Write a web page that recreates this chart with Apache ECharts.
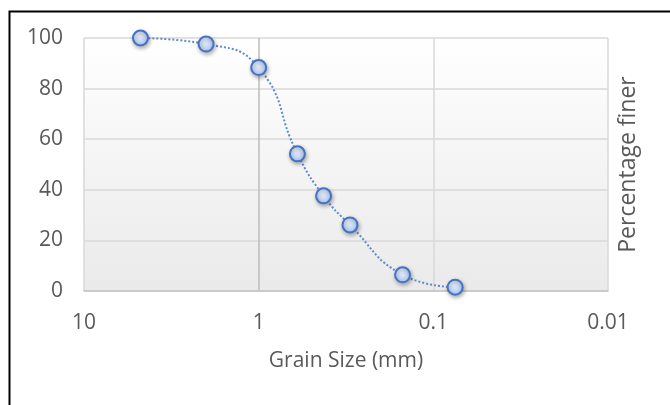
<!DOCTYPE html>
<html>
<head>
<meta charset="utf-8">
<script src="https://cdn.jsdelivr.net/npm/echarts@6/dist/echarts.min.js"></script>
<style>
html,body{margin:0;padding:0;background:#fff;}
#chart{width:670px;height:405px;}
</style>
</head>
<body>
<div id="chart"></div>
<script>
// Data
const grainSize = [4.75, 2.0, 1.0, 0.6, 0.425, 0.3, 0.15, 0.075];
const percentFiner = [100, 97.6, 88.3, 54.2, 37.6, 26.1, 6.4, 1.5];
const xTicks = [10, 1, 0.1, 0.01];
const yTicks = [0, 20, 40, 60, 80, 100];

const fontFam = '"Open Sans", "Noto Sans", sans-serif';
const chart = echarts.init(document.getElementById('chart'), null, {renderer: 'canvas'});
const points = grainSize.map((g, i) => [g, percentFiner[i]]);

chart.setOption({
  animation: false,
  graphic: [{
    type: 'rect',
    left: 7, top: 9,
    shape: {x: 0, y: 0, width: 700, height: 420},
    style: {fill: 'none', stroke: '#000', lineWidth: 2},
    z: 100
  }],
  grid: {
    left: 84, right: 62, top: 38, bottom: 114,
    show: true,
    borderWidth: 0,
    backgroundColor: new echarts.graphic.LinearGradient(0, 0, 0, 1, [
      {offset: 0, color: '#ffffff'},
      {offset: 1, color: '#eaeaea'}
    ])
  },
  xAxis: {
    type: 'log',
    logBase: 10,
    min: xTicks[3],
    max: xTicks[0],
    inverse: true,
    name: 'Grain Size (mm)',
    nameLocation: 'middle',
    nameGap: 60,
    nameTextStyle: {fontFamily: fontFam, fontSize: 21, color: '#595959'},
    axisLine: {show: true, lineStyle: {color: '#c4c4c4', width: 1.5}},
    axisTick: {show: false},
    axisLabel: {
      fontFamily: fontFam, fontSize: 21, color: '#595959', margin: 22,
      formatter: v => {
        const t = xTicks.find(t => Math.abs(Math.log10(t) - Math.log10(v)) < 1e-6);
        return t !== undefined ? String(t) : '';
      }
    },
    splitLine: {show: true, lineStyle: {color: ['#d9d9d9', '#d9d9d9', '#bcbcbc', '#d9d9d9'], width: 1.5}}
  },
  yAxis: [{
    type: 'value',
    min: yTicks[0], max: yTicks[yTicks.length - 1], interval: 20,
    position: 'left',
    axisLine: {show: false},
    axisTick: {show: false},
    axisLabel: {fontFamily: fontFam, fontSize: 21, color: '#595959', margin: 21},
    splitLine: {show: true, lineStyle: {color: '#d9d9d9', width: 1.5}}
  }, {
    type: 'value',
    min: 0, max: 100,
    position: 'right',
    name: 'Percentage finer',
    nameLocation: 'middle',
    nameRotate: 90,
    nameGap: 9,
    nameTextStyle: {fontFamily: fontFam, fontSize: 23, color: '#595959', verticalAlign: 'top'},
    axisLine: {show: false}, axisTick: {show: false},
    axisLabel: {show: false}, splitLine: {show: false}
  }],
  series: [{
    type: 'line',
    data: points,
    smooth: 0.5,
    symbol: 'circle',
    symbolSize: 15,
    lineStyle: {color: '#5b8ad0', width: 2, type: [2, 2]},
    itemStyle: {
      color: new echarts.graphic.RadialGradient(0.4, 0.35, 0.7, [
        {offset: 0, color: '#eaf1fd'},
        {offset: 1, color: '#a8c4f2'}
      ]),
      borderColor: '#4472c4',
      borderWidth: 2,
      shadowBlur: 4,
      shadowColor: 'rgba(0,0,0,0.3)',
      shadowOffsetX: 1,
      shadowOffsetY: 2
    },
    emphasis: {disabled: true}
  }]
});
</script>
</body>
</html>
